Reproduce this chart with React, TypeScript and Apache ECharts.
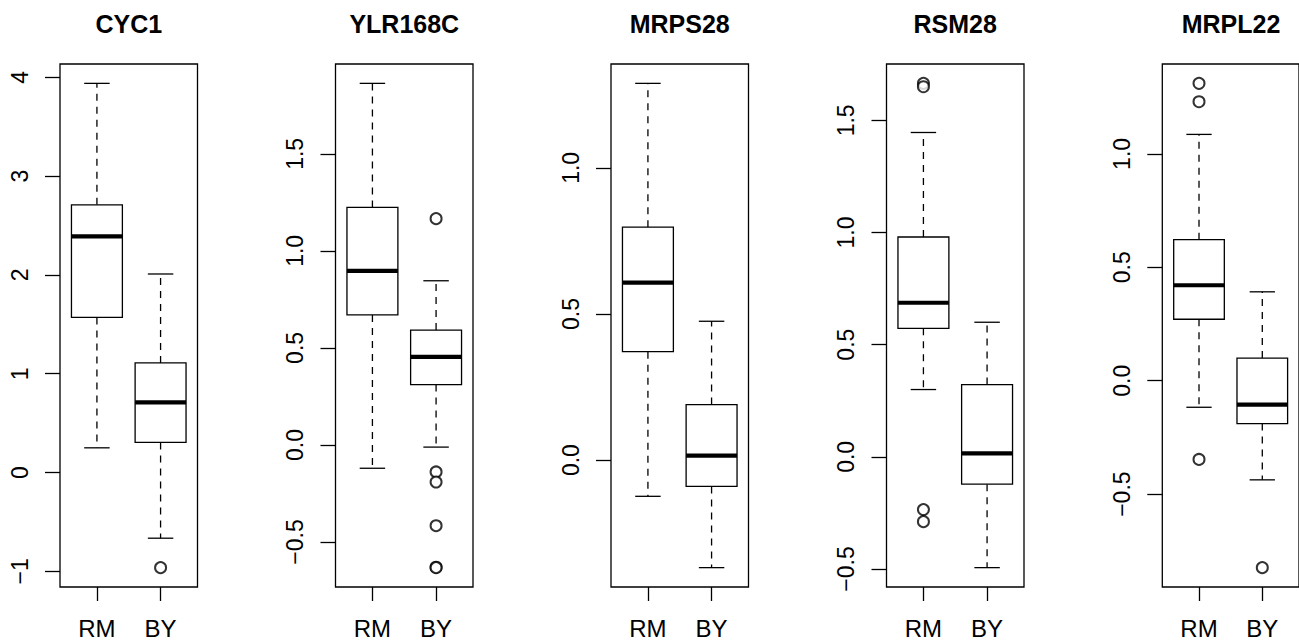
import React, { useEffect, useRef } from "react";
import * as echarts from "echarts";

// ---- data ----
const genes = ["CYC1", "YLR168C", "MRPS28", "RSM28", "MRPL22"];
const groups = ["RM", "BY"];

// five-number summaries: [lower whisker, Q1, median, Q3, upper whisker]
const rmStats: number[][] = [
  [0.25, 1.57, 2.39, 2.71, 3.94],
  [-0.12, 0.67, 0.897, 1.224, 1.863],
  [-0.124, 0.371, 0.607, 0.797, 1.289],
  [0.3, 0.573, 0.687, 0.98, 1.446],
  [-0.117, 0.271, 0.421, 0.622, 1.086],
];
const byStats: number[][] = [
  [-0.665, 0.305, 0.71, 1.11, 2.01],
  [-0.011, 0.311, 0.454, 0.592, 0.846],
  [-0.368, -0.09, 0.015, 0.19, 0.475],
  [-0.494, -0.122, 0.015, 0.322, 0.6],
  [-0.437, -0.189, -0.105, 0.1, 0.392],
];
const rmOutliers: number[][] = [
  [],
  [],
  [],
  [1.665, 1.65, -0.235, -0.289],
  [1.311, 1.23, -0.347],
];
const byOutliers: number[][] = [
  [-0.963],
  [1.166, -0.139, -0.191, -0.416, -0.63, -0.632],
  [],
  [],
  [-0.824],
];
const yTicks: number[][] = [
  [-1, 0, 1, 2, 3, 4],
  [-0.5, 0, 0.5, 1, 1.5],
  [0, 0.5, 1],
  [-0.5, 0, 0.5, 1, 1.5],
  [-0.5, 0, 0.5, 1],
];
const yDecimals = [0, 1, 1, 1, 1];

// ---- layout ----
const FONT = "'Liberation Sans', Arial, Helvetica, sans-serif";
const panelLefts = [60, 335.5, 611, 886.5, 1162.3];
const panelWidth = 137.5;
const panelTop = 64;
const panelHeight = 524;
const LW = 1.3;

function fmt(v: number, d: number) {
  const s = Math.abs(v).toFixed(d);
  return v < 0 ? "\u2212" + s : s;
}

function renderBox(params: any, api: any) {
  const x = api.value(0);
  const lo = api.value(1);
  const q1 = api.value(2);
  const med = api.value(3);
  const q3 = api.value(4);
  const hi = api.value(5);
  const p = (xx: number, yy: number) => api.coord([xx, yy]);
  const style = { stroke: "#000", lineWidth: LW, fill: null };
  const dash = { stroke: "#000", lineWidth: LW, lineDash: [7, 6] };
  const pLo = p(x, lo), pQ1 = p(x, q1), pQ3 = p(x, q3), pHi = p(x, hi);
  const bl = p(x - 0.4, q3);
  const br = p(x + 0.4, q1);
  const ml = p(x - 0.4, med);
  const mr = p(x + 0.4, med);
  const cl = p(x - 0.2, lo)[0];
  const cr = p(x + 0.2, lo)[0];
  return {
    type: "group",
    children: [
      { type: "line", shape: { x1: pQ1[0], y1: pQ1[1], x2: pLo[0], y2: pLo[1] }, style: dash },
      { type: "line", shape: { x1: pQ3[0], y1: pQ3[1], x2: pHi[0], y2: pHi[1] }, style: dash },
      { type: "line", shape: { x1: cl, y1: pLo[1], x2: cr, y2: pLo[1] }, style },
      { type: "line", shape: { x1: cl, y1: pHi[1], x2: cr, y2: pHi[1] }, style },
      {
        type: "rect",
        shape: { x: bl[0], y: bl[1], width: br[0] - bl[0], height: br[1] - bl[1] },
        style: { stroke: "#000", lineWidth: LW, fill: "#fff" },
      },
      { type: "line", shape: { x1: ml[0], y1: ml[1], x2: mr[0], y2: mr[1] }, style: { stroke: "#000", lineWidth: 4.2 } },
    ],
  };
}

export default function App() {
  const ref = useRef<HTMLDivElement>(null);
  useEffect(() => {
    if (!ref.current) return;
    const chart = echarts.init(ref.current, undefined, { renderer: "svg" });
    const grid: any[] = [];
    const xAxis: any[] = [];
    const yAxis: any[] = [];
    const series: any[] = [];
    const graphic: any[] = [];
    genes.forEach((g, i) => {
      const allVals = [...rmStats[i], ...byStats[i], ...rmOutliers[i], ...byOutliers[i]];
      const dMin = Math.min(...allVals);
      const dMax = Math.max(...allVals);
      const ext = (dMax - dMin) * 0.04;
      grid.push({
        left: panelLefts[i],
        top: panelTop,
        width: panelWidth,
        height: panelHeight,
        show: true,
        borderColor: "#000",
        borderWidth: LW,
        backgroundColor: "transparent",
      });
      xAxis.push({
        gridIndex: i,
        type: "value",
        position: "bottom",
        min: 0.42,
        max: 2.58,
        splitLine: { show: false },
        axisLine: { show: false, onZero: false },
        axisTick: { show: true, customValues: [1, 2], length: 14, lineStyle: { color: "#000", width: LW } },
        axisLabel: {
          customValues: [1, 2],
          formatter: (v: number) => groups[Math.round(v) - 1],
          margin: 29,
          fontSize: 24,
          color: "#000",
          fontFamily: FONT,
        },
      });
      yAxis.push({
        gridIndex: i,
        type: "value",
        position: "left",
        min: dMin - ext,
        max: dMax + ext,
        splitLine: { show: false },
        axisLine: { show: false, onZero: false },
        axisTick: { show: true, customValues: yTicks[i], length: 15, lineStyle: { color: "#000", width: LW } },
        axisLabel: {
          customValues: yTicks[i],
          formatter: (v: number) => fmt(v, yDecimals[i]),
          rotate: 90,
          margin: 29,
          fontSize: 23,
          color: "#000",
          fontFamily: FONT,
        },
      });
      series.push({
        type: "custom",
        xAxisIndex: i,
        yAxisIndex: i,
        renderItem: renderBox,
        data: [
          [1, ...rmStats[i]],
          [2, ...byStats[i]],
        ],
        silent: true,
      });
      series.push({
        type: "scatter",
        xAxisIndex: i,
        yAxisIndex: i,
        symbol: "emptyCircle",
        symbolSize: 11,
        itemStyle: { color: "#000", borderColor: "#000", borderWidth: 1.1 },
        data: [
          ...rmOutliers[i].map((v) => [1, v]),
          ...byOutliers[i].map((v) => [2, v]),
        ],
        silent: true,
        z: 5,
      });
      graphic.push({
        type: "text",
        x: panelLefts[i] + panelWidth / 2,
        y: 24,
        style: {
          text: g,
          fill: "#000",
          fontSize: 25,
          fontWeight: "bold",
          fontFamily: FONT,
          align: "center",
          verticalAlign: "middle",
        },
      });
    });
    chart.setOption({
      animation: false,
      backgroundColor: "#fff",
      grid,
      xAxis,
      yAxis,
      series,
      graphic,
    });
    return () => chart.dispose();
  }, []);
  return (
    <div
      ref={ref}
      style={{ position: "fixed", left: 0, top: 0, width: 1299, height: 640 }}
    />
  );
}
